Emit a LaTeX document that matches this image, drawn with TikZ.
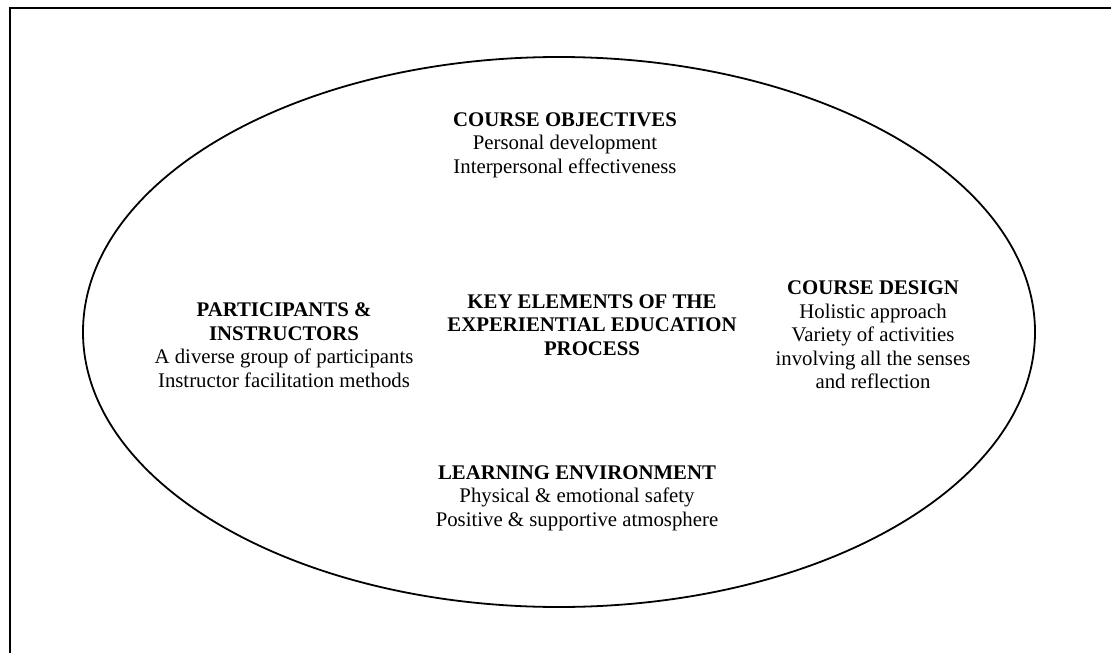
\documentclass[tikz,border=0pt]{standalone}
\usepackage{fontspec}
\setmainfont{Liberation Serif}
\usetikzlibrary{positioning}

\begin{document}
\begin{tikzpicture}[x=1pt,y=-1pt]
\tikzset{element/.style={align=center, inner sep=0pt, font={\fontsize{20.8}{23.6}\selectfont}},
		frame/.style={line width=2pt},
		oval/.style={line width=1.8pt}}
\useasboundingbox (0,0) rectangle (1111,653);
\draw[frame] (10,653) -- (10,8) -- (1111,8);
\draw[oval] (559,332) ellipse [x radius=476pt, y radius=275pt];
\node[element] (KE) at (592,325) {\textbf{KEY ELEMENTS OF THE}\\\textbf{EXPERIENTIAL EDUCATION}\\\textbf{PROCESS}};
\node[element] (CO) at (565,145) {\textbf{COURSE OBJECTIVES}\\Personal development\\Interpersonal effectiveness};
\node[element] (PI) at (284,345) {\textbf{PARTICIPANTS \&}\\\textbf{INSTRUCTORS}\\A diverse group of participants\\Instructor facilitation methods};
\node[element] (CD) at (873,335) {\textbf{COURSE DESIGN}\\Holistic approach\\Variety of activities\\involving all the senses\\and reflection};
\node[element] (LE) at (577,498) {\textbf{LEARNING ENVIRONMENT}\\Physical \& emotional safety\\Positive \& supportive atmosphere};
\end{tikzpicture}
\end{document}
